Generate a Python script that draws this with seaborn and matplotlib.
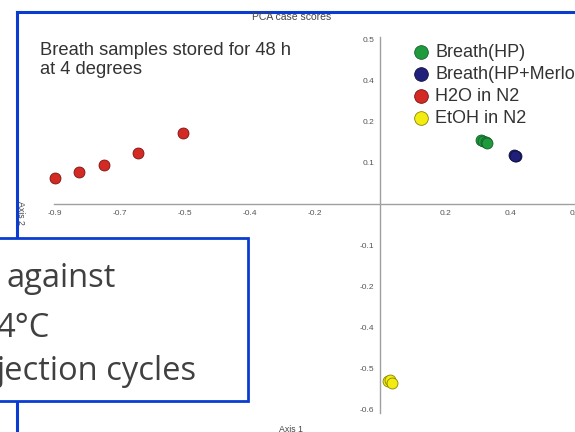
import numpy as np
import pandas as pd
import matplotlib
matplotlib.use("Agg")
import matplotlib.pyplot as plt
import seaborn as sns
from matplotlib.patches import Rectangle
from matplotlib.lines import Line2D

# PCA case scores (in tick-step units)
groups = ["Breath(HP)", "Breath(HP+Merlot)", "H2O in N2", "EtOH in N2"]
breath_x = [0.312, 0.318, 0.326, 0.330]
breath_y = [0.157, 0.154, 0.150, 0.148]
merlot_x = [0.413, 0.418, 0.416]
merlot_y = [0.119, 0.117, 0.116]
h2o_x = [-1.000, -0.926, -0.851, -0.744, -0.608]
h2o_y = [0.063, 0.079, 0.095, 0.125, 0.172]
etoh_x = [0.024, 0.030, 0.038]
etoh_y = [-0.432, -0.430, -0.436]

xtick_pos = [-1.0, -0.8, -0.6, -0.4, -0.2, 0.2, 0.4, 0.6]
xtick_labels = ["-0.9", "-0.7", "-0.5", "-0.4", "-0.2", "0.2", "0.4", "0.6"]
ytick_pos = [-0.5, -0.4, -0.3, -0.2, -0.1, 0.1, 0.2, 0.3, 0.4]
ytick_labels = ["-0.6", "-0.5", "-0.4", "-0.2", "-0.1", "0.1", "0.2", "0.4", "0.5"]

colors = ["#1f9a3c", "#20207a", "#d42a24", "#f2ec10"]
edges = ["#14602a", "#101040", "#7a1010", "#8a8400"]

df = pd.concat([
    pd.DataFrame({"x": breath_x, "y": breath_y, "group": groups[0]}),
    pd.DataFrame({"x": merlot_x, "y": merlot_y, "group": groups[1]}),
    pd.DataFrame({"x": h2o_x, "y": h2o_y, "group": groups[2]}),
    pd.DataFrame({"x": etoh_x, "y": etoh_y, "group": groups[3]}),
])

sns.set_style("white")
plt.rcParams["font.family"] = ["Liberation Sans", "DejaVu Sans"]

W, H = 575, 432
fig = plt.figure(figsize=(W / 100, H / 100), dpi=100)
ax = fig.add_axes([0, 0, 1, 1])

for g, c, e in zip(groups, colors, edges):
    sub = df[df["group"] == g]
    sns.scatterplot(data=sub, x="x", y="y", color=c, edgecolor=e, linewidth=0.6,
                    s=62, ax=ax, label=g, zorder=3)

ax.set_xlim(-1.1697, 0.5956)
ax.set_ylim(-0.5557, 0.4972)
ax.set_xlabel("")
ax.set_ylabel("")

ax.spines["left"].set_position(("data", 0))
ax.spines["bottom"].set_position(("data", 0))
ax.spines["top"].set_visible(False)
ax.spines["right"].set_visible(False)
for s in ["left", "bottom"]:
    ax.spines[s].set_color("#a0a0a0")
    ax.spines[s].set_linewidth(1.0)
ax.spines["left"].set_bounds(-0.51, 0.407)
ax.spines["bottom"].set_bounds(-1.003, 0.6)

ax.set_xticks(xtick_pos)
ax.set_xticklabels(xtick_labels)
ax.set_yticks(ytick_pos)
ax.set_yticklabels(ytick_labels)
ax.tick_params(direction="in", length=6, width=0.8, color="#a0a0a0",
               labelsize=6, labelcolor="#555555", pad=4)
ax.patch.set_alpha(0)

leg = ax.legend(loc="upper left", bbox_to_anchor=(412 / W, 1 - 44 / H),
                bbox_transform=fig.transFigure, frameon=False, fontsize=13,
                labelspacing=0.28, handletextpad=0.3, handlelength=1.0,
                borderaxespad=0, borderpad=0, markerscale=1.25,
                labelcolor="#333333")


def px(x, y):
    return x / W, 1 - y / H


fig.text(*px(292, 17), "PCA case scores", fontsize=7.5, color="#444444",
         ha="center", va="center")
fig.text(*px(40, 55), "Breath samples stored for 48 h", fontsize=13.2,
         color="#333333", ha="left", va="baseline")
fig.text(*px(40, 74), "at 4 degrees", fontsize=13.2,
         color="#333333", ha="left", va="baseline")
fig.text(*px(291, 430), "Axis 1", fontsize=6.3, color="#444444",
         ha="center", va="center")
fig.text(*px(21, 213), "Axis 2", fontsize=6.3, color="#444444",
         ha="center", va="center", rotation=270)

blue = "#0a3cd2"
fig.add_artist(Line2D([17 / W, 1.01], [1 - 12 / H] * 2, color=blue, lw=2.2,
                      transform=fig.transFigure, solid_capstyle="projecting"))
fig.add_artist(Line2D([17 / W] * 2, [1 - 12 / H, -0.01], color=blue, lw=2.2,
                      transform=fig.transFigure, solid_capstyle="projecting"))
fig.add_artist(Rectangle(px(-10, 401), 258 / W, (401 - 237.5) / H,
                         transform=fig.transFigure, facecolor="white",
                         edgecolor=blue, lw=2.0, zorder=5))

box_font = ["Open Sans", "DejaVu Sans"]
for txt, xx, yy in [("against", 6, 287), ("4°C", -4, 337), ("jection cycles", -3, 380)]:
    fig.text(*px(xx, yy), txt, fontsize=23.5, color="#404040", family=box_font,
             ha="left", va="baseline", zorder=6)

fig.savefig("out.png", dpi=100)
